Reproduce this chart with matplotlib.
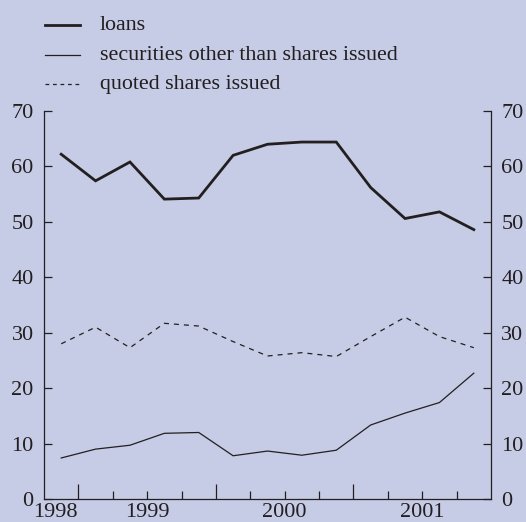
import matplotlib
matplotlib.use("Agg")
import matplotlib.pyplot as plt
from matplotlib.lines import Line2D

# quarterly positions (mid-quarter), axis spans 13 quarters
quarters = [0.5, 1.5, 2.5, 3.5, 4.5, 5.5, 6.5, 7.5, 8.5, 9.5, 10.5, 11.5, 12.5]
loans = [62.2, 57.4, 60.8, 54.1, 54.3, 62.0, 64.0, 64.4, 64.4, 56.2, 50.6, 51.8, 48.6]
securities = [7.4, 9.0, 9.7, 11.85, 12.0, 7.8, 8.65, 7.9, 8.8, 13.35, 15.5, 17.4, 22.7]
quoted = [28.0, 31.0, 27.3, 31.7, 31.2, 28.4, 25.8, 26.4, 25.7, 29.3, 32.8, 29.3, 27.3]

year_labels = ["1998", "1999", "2000", "2001"]
year_label_pos = [0.33, 3.0, 7.0, 11.0]
year_ticks = [1, 5, 9]
quarter_ticks = [1, 2, 3, 4, 5, 6, 7, 8, 9, 10, 11, 12]
y_ticks = [0, 10, 20, 30, 40, 50, 60, 70]

series_labels = ["loans", "securities other than shares issued", "quoted shares issued"]

BG = "#c6cce6"
INK = "#231f20"
plt.rcParams['font.family'] = ['Liberation Serif', 'DejaVu Serif']

fig = plt.figure(figsize=(5.26, 5.22), dpi=100, facecolor=BG)
ax = fig.add_axes([44/526, 1-499/522, (491-44)/526, (499-111)/522])
ax.set_facecolor(BG)

ax.plot(quarters, loans, color=INK, lw=2.0, solid_joinstyle='miter')
ax.plot(quarters, securities, color=INK, lw=0.9)
ax.plot(quarters, quoted, color=INK, lw=0.9, dashes=(4, 4))

ax.set_xlim(0, 13)
ax.set_ylim(0, 70)
ax.spines['top'].set_visible(False)
for s in ['left', 'right', 'bottom']:
    ax.spines[s].set_color(INK)
    ax.spines[s].set_linewidth(0.9)

ax.set_yticks(y_ticks)
ax.tick_params(axis='y', direction='in', length=6, width=0.9, color=INK,
               labelsize=16, labelcolor=INK, left=True, right=True,
               labelleft=True, labelright=True, pad=7.5)
ax.set_xticks(year_ticks)
ax.set_xticks(quarter_ticks, minor=True)
ax.tick_params(axis='x', which='major', direction='in', length=11, width=0.9, color=INK, labelbottom=False)
ax.tick_params(axis='x', which='minor', direction='in', length=6, width=0.9, color=INK)

for lab, pos in zip(year_labels, year_label_pos):
    ax.text(pos, -0.01, lab, transform=ax.get_xaxis_transform(), ha='center', va='top',
            fontsize=16, color=INK)

# legend drawn manually in figure pixels
styles = [dict(lw=2.0), dict(lw=0.9), dict(lw=0.9, dashes=(3, 3))]
rows_y = [25, 55, 84]
for lab, st, yy in zip(series_labels, styles, rows_y):
    yf = 1 - yy/522
    fig.add_artist(Line2D([45/526, 80/526], [yf, yf], color=INK, transform=fig.transFigure, **st))
    fig.text(100/526, yf, lab, ha='left', va='center', fontsize=15.8, color=INK)

fig.savefig("out.png", dpi=100, facecolor=BG)
